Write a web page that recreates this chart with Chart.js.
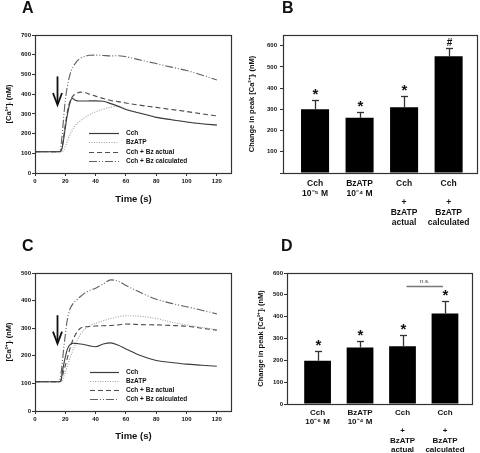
<!DOCTYPE html>
<html><head><meta charset="utf-8">
<script src="https://cdn.jsdelivr.net/npm/chart.js@4/dist/chart.umd.min.js"></script>
<style>
html,body{margin:0;padding:0;background:#fff;}
#wrap{position:relative;width:480px;height:453px;overflow:hidden;background:#fff;}
canvas{position:absolute;}
.letter{position:absolute;font:bold 16px "Liberation Sans",Arial,sans-serif;line-height:16px;color:#111;}
</style></head><body>
<div id="wrap">
<canvas id="cA" width="240" height="225" style="left:0;top:0"></canvas>
<canvas id="cB" width="240" height="225" style="left:240px;top:0"></canvas>
<canvas id="cC" width="240" height="228" style="left:0;top:225px"></canvas>
<canvas id="cD" width="240" height="228" style="left:240px;top:225px"></canvas>
<div class="letter" style="left:22px;top:0px">A</div>
<div class="letter" style="left:282px;top:0px">B</div>
<div class="letter" style="left:22px;top:238px">C</div>
<div class="letter" style="left:281px;top:238px">D</div>
</div>
<script>
// ---------- DATA ----------
const seriesNames = ["Cch", "BzATP", "Cch + Bz actual", "Cch + Bz calculated"];
const times = [0,10,15,16,17,18,19,20,21,22,23,24,25,26,28,30,33,36,40,45,50,55,60,70,80,90,100,110,120];

// Panel A
const cchA    = [108,108,108,108,110,130,175,230,280,320,355,375,378,372,366,365,365,366,366,364,352,338,322,302,282,270,259,250,243];
const bzatpA  = [108,108,108,108,108,108,115,135,155,175,192,208,222,234,252,265,282,296,310,324,334,339,324,304,284,271,260,251,244];
const actualA = [108,108,108,108,112,135,190,245,295,335,360,378,390,398,406,410,407,400,390,378,368,362,355,343,333,322,312,300,290];
const calcA   = [108,108,108,112,130,200,290,370,425,465,497,520,537,550,570,582,592,597,598,596,594,595,590,572,555,537,520,497,472];

// Panel C
const cchC    = [106,106,106,106,108,140,170,195,218,232,240,244,246,245,244,243,240,236,233,243,247,238,225,200,183,176,170,166,162];
const bzatpC  = [106,106,106,106,106,108,125,140,157,173,190,205,220,233,258,278,298,308,318,327,335,342,345,343,335,322,312,303,295];
const actualC = [106,106,106,106,108,125,145,165,185,205,225,243,258,270,288,300,305,306,308,309,310,312,315,313,312,310,307,300,293];
const calcC   = [106,106,106,108,130,175,230,275,320,348,368,380,388,395,405,415,428,437,445,460,475,470,455,428,405,390,378,365,352];

// Panel B
const barLabelsB = [["Cch","10\u207B\u2075 M"],["BzATP","10\u207B\u2074 M"],["Cch","","+","BzATP","actual"],["Cch","","+","BzATP","calculated"]];
const barValuesB = [300, 260, 310, 550];
const barErrorsB = [42, 29, 54, 39];
const barMarksB  = ["*", "*", "*", "#"];

// Panel D
const barLabelsD = [["Cch","10\u207B\u2076 M"],["BzATP","10\u207B\u2074 M"],["Cch","","+","BzATP","actual"],["Cch","","+","BzATP","calculated"]];
const barValuesD = [198, 259, 264, 414];
const barErrorsD = [46, 30, 50, 58];
const barMarksD  = ["*", "*", "*", "*"];

const stimulusTime = 14.5;
const ytitleLine = "[Ca\u00B2\u207A]\u1D62 (nM)";
const ytitleBar  = "Change in peak [Ca\u00B2\u207A]\u1D62 (nM)";

// ---------- HELPERS ----------
const FF = '"Liberation Sans", Arial, Helvetica, sans-serif';
const INK = '#111';
const lineStyles = [
  {borderColor:'#3c3c3c', borderDash:[]},
  {borderColor:'#a0a0a0', borderDash:[1,1.5]},
  {borderColor:'#4c4c4c', borderDash:[5,3]},
  {borderColor:'#606060', borderDash:[8,2,1,2,1,2]}
];

const framePlugin = {
  id:'frame',
  afterDatasetsDraw(chart){
    const {ctx, chartArea:a} = chart;
    ctx.save(); ctx.strokeStyle='#333'; ctx.lineWidth=1.2; ctx.setLineDash([]);
    ctx.strokeRect(a.left+0.5, a.top+0.5, a.right-a.left-1, a.bottom-a.top);
    ctx.restore();
  }
};

function makeLegend(x1, x2, tx, rows){
  return {id:'miniLegend', afterDatasetsDraw(chart){
    const ctx = chart.ctx; ctx.save();
    chart.data.datasets.forEach((ds,i)=>{
      const y = rows[i] + 0.5;
      ctx.strokeStyle = ds.borderColor; ctx.lineWidth = 1.2; ctx.setLineDash(ds.borderDash||[]);
      ctx.beginPath(); ctx.moveTo(x1,y); ctx.lineTo(x2,y); ctx.stroke();
      ctx.setLineDash([]); ctx.fillStyle = INK; ctx.font = 'bold 6.5px '+FF;
      ctx.textBaseline='middle'; ctx.textAlign='left'; ctx.fillText(ds.label, tx, y);
    });
    ctx.restore();
  }};
}

function makeArrow(t, yFrom, yTo){
  return {id:'arrow', afterDatasetsDraw(chart){
    const ctx = chart.ctx, xs = chart.scales.x, ys = chart.scales.y;
    const x = Math.round(xs.getPixelForValue(t)) + 0.5, y1 = ys.getPixelForValue(yFrom), y2 = ys.getPixelForValue(yTo);
    ctx.save(); ctx.strokeStyle='#111'; ctx.lineWidth=1.8; ctx.setLineDash([]);
    ctx.beginPath(); ctx.moveTo(x,y1); ctx.lineTo(x,y2-1); ctx.stroke();
    ctx.beginPath(); ctx.moveTo(x-4.5,y2-12); ctx.lineTo(x,y2); ctx.lineTo(x+4.5,y2-12); ctx.stroke();
    ctx.restore();
  }};
}

function makeBarExtras(errors, marks, extra){
  return {id:'barExtras', afterDatasetsDraw(chart){
    const ctx = chart.ctx, ys = chart.scales.y, meta = chart.getDatasetMeta(0);
    const vals = chart.data.datasets[0].data;
    ctx.save(); ctx.setLineDash([]);
    meta.data.forEach((el,i)=>{
      const x = Math.round(el.x)+0.5;
      const yTop = Math.round(ys.getPixelForValue(vals[i].y + errors[i]))+0.5;
      ctx.strokeStyle='#333'; ctx.lineWidth=1.3;
      ctx.beginPath(); ctx.moveTo(x, el.y); ctx.lineTo(x, yTop); ctx.stroke();
      ctx.beginPath(); ctx.moveTo(x-3.5, yTop); ctx.lineTo(x+3.5, yTop); ctx.stroke();
      ctx.fillStyle=INK; ctx.textAlign='center'; ctx.textBaseline='alphabetic';
      if (marks[i] === '*') { ctx.font='bold 15px '+FF; ctx.fillText('*', x, yTop - 10 + 8.5); }
      else { ctx.font='bold 10px '+FF; ctx.fillText(marks[i], x, yTop - 3); }
    });
    if (extra) {
      const a = meta.data[2], b = meta.data[3];
      const y = Math.round(ys.getPixelForValue(extra.value))+0.5;
      ctx.strokeStyle='#777'; ctx.lineWidth=1.5;
      ctx.beginPath(); ctx.moveTo(a.x+4, y); ctx.lineTo(b.x-2, y); ctx.stroke();
      ctx.fillStyle='#333'; ctx.font='6px '+FF; ctx.textBaseline='alphabetic';
      ctx.fillText(extra.text, (a.x+b.x)/2+1, y-4);
    }
    ctx.restore();
  }};
}

function lineChart(id, data, ymax, area, titlePad, xTitlePad, legend, arrow){
  const canvas = document.getElementById(id);
  const ds = data.map((arr,i)=>({
    label: seriesNames[i], data: arr.map((v,k)=>({x:times[k], y:v})), borderWidth:1.1, pointRadius:0,
    borderColor: lineStyles[i].borderColor, borderDash: lineStyles[i].borderDash,
    cubicInterpolationMode:'monotone', fill:false
  }));
  return new Chart(canvas, {
    type:'line',
    data:{ datasets: ds },
    options:{
      responsive:false, animation:false, events:[],
      layout:{padding:{left:0, top:area.top, right:canvas.width-area.right, bottom:0}},
      plugins:{legend:{display:false}, tooltip:{enabled:false}},
      scales:{
        x:{type:'linear', min:0, max:130,
           ticks:{stepSize:20, includeBounds:false, color:INK, font:{family:FF, size:6, weight:'bold'}, padding:2, maxRotation:0},
           grid:{display:true, drawOnChartArea:false, drawTicks:true, tickLength:3, color:'#333'},
           border:{display:false},
           title:{display:true, text:'Time (s)', color:INK, font:{family:FF, size:9.5, weight:'bold'}, padding:{top:0,bottom:xTitlePad}},
           afterFit:s=>{ s.height = canvas.height - area.bottom; }},
        y:{type:'linear', min:0, max:ymax,
           ticks:{stepSize:100, includeBounds:false, color:INK, font:{family:FF, size:6, weight:'bold'}, padding:1},
           grid:{display:true, drawOnChartArea:false, drawTicks:true, tickLength:3, color:'#333'},
           border:{display:false},
           title:{display:true, text:ytitleLine, color:INK, font:{family:FF, size:7.5, weight:'bold'}, padding:{top:titlePad,bottom:0}},
           afterFit:s=>{ s.width = area.left; }}
      }
    },
    plugins:[framePlugin, legend, arrow]
  });
}

function barChart(id, labels, values, errors, marks, ymax, hideZero, area, titlePad, yTickPad, labelFont, labelLH, labelPad, extra){
  const canvas = document.getElementById(id);
  return new Chart(canvas, {
    type:'bar',
    data:{ datasets:[{ data: values.map((v,i)=>({x:i, y:v})), backgroundColor:'#000', borderWidth:0,
      categoryPercentage:1, barPercentage:0.63 }] },
    options:{
      responsive:false, animation:false, events:[],
      layout:{padding:{left:0, top:area.top, right:canvas.width-area.right, bottom:0}},
      plugins:{legend:{display:false}, tooltip:{enabled:false}},
      scales:{
        x:{type:'linear', min:-0.72, max:3.66, offset:false,
           afterBuildTicks:s=>{ s.ticks = labels.map((_,i)=>({value:i})); },
           ticks:{autoSkip:false, maxRotation:0, color:INK, padding:labelPad,
                  font:{family:FF, size:labelFont, weight:'bold', lineHeight:labelLH+'px'},
                  callback:(v,i)=>labels[i]},
           grid:{display:false, drawTicks:false, tickLength:0}, border:{display:false},
           afterFit:s=>{ s.height = canvas.height - area.bottom; }},
        y:{type:'linear', min:0, max:ymax,
           ticks:{stepSize:100, includeBounds:false, color:INK, font:{family:FF, size:6, weight:'bold'}, padding:yTickPad,
                  callback:v=> (hideZero && v===0) ? '' : v},
           grid:{display:true, drawOnChartArea:false, drawTicks:true, tickLength:3, color:'#333'},
           border:{display:false},
           title:{display:true, text:ytitleBar, color:INK, font:{family:FF, size:7.5, weight:'bold'}, padding:{top:titlePad,bottom:0}},
           afterFit:s=>{ s.width = area.left; }}
      }
    },
    plugins:[framePlugin, makeBarExtras(errors, marks, extra)]
  });
}

lineChart('cA', [cchA, bzatpA, actualA, calcA], 700, {left:35, top:35, right:232, bottom:173}, 4, 20,
  makeLegend(89, 119, 126, [133, 142, 152, 161]), makeArrow(stimulusTime, 490, 345));
lineChart('cC', [cchC, bzatpC, actualC, calcC], 500, {left:35, top:48, right:232, bottom:186}, 4, 11,
  makeLegend(90, 119, 126, [147, 156, 165, 174]), makeArrow(stimulusTime, 347, 244));
barChart('cB', barLabelsB, barValuesB, barErrorsB, barMarksB, 650, true, {left:43, top:35, right:238, bottom:173}, 7, 3, 8.5, 9.6, 6, null);
barChart('cD', barLabelsD, barValuesD, barErrorsD, barMarksD, 600, false, {left:47, top:48, right:233, bottom:179}, 16, 1, 8, 9.3, 4, {value:542, text:'n.s.'});
</script>
</body></html>
